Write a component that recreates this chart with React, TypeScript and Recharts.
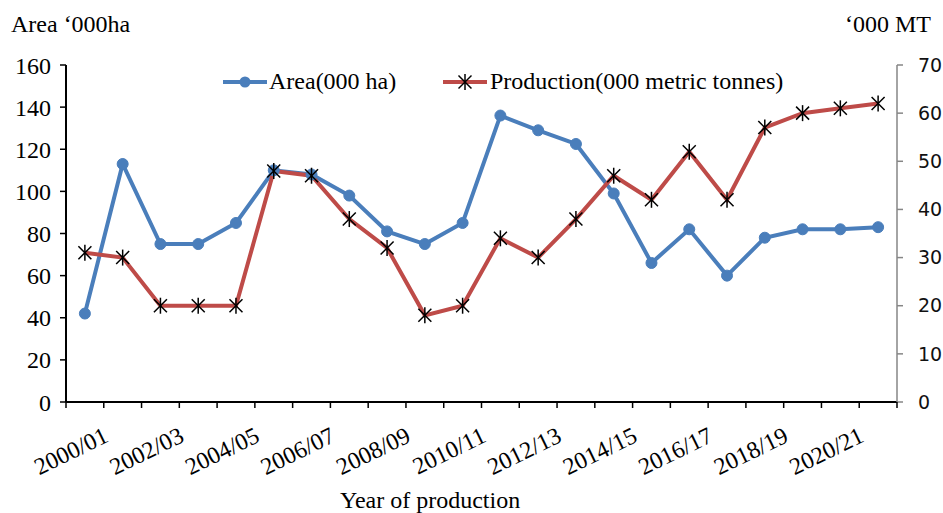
import { LineChart, Line, XAxis, YAxis } from "recharts";

const years = [
  "2000/01", "2001/02", "2002/03", "2003/04", "2004/05", "2005/06", "2006/07", "2007/08",
  "2008/09", "2009/10", "2010/11", "2011/12", "2012/13", "2013/14", "2014/15", "2015/16",
  "2016/17", "2017/18", "2018/19", "2019/20", "2020/21", "2021/22",
];
const area = [42, 113, 75, 75, 85, 110, 108, 98, 81, 75, 85, 136, 129, 122.5, 99, 66, 82, 60, 78, 82, 82, 83];
const production = [31, 30, 20, 20, 20, 48, 47, 38, 32, 18, 20, 34, 30, 38, 47, 42, 52, 42, 57, 60, 61, 62];
const areaTicks = [0, 20, 40, 60, 80, 100, 120, 140, 160];
const prodTicks = [0, 10, 20, 30, 40, 50, 60, 70];

const data = years.map((y, i) => ({ year: y, area: area[i], production: production[i] }));

const W = 943;
const H = 513;
const LEFT = 66;
const RIGHT = 897;
const TOP = 65;
const BOTTOM = 402;
const STEP = (RIGHT - LEFT) / years.length;

const BLUE = "#4A7EBB";
const RED = "#BE4B48";
const SERIF = "'Liberation Serif', 'Times New Roman', serif";
const SANS = "'DejaVu Sans', Verdana, sans-serif";

function Star({ cx, cy }: any) {
  if (cx == null || cy == null) return null;
  return (
    <g stroke="#000" strokeWidth={1.5}>
      <line x1={cx - 6.5} y1={cy - 6.5} x2={cx + 6.5} y2={cy + 6.5} />
      <line x1={cx - 6.5} y1={cy + 6.5} x2={cx + 6.5} y2={cy - 6.5} />
      <line x1={cx} y1={cy - 8} x2={cx} y2={cy + 8} />
    </g>
  );
}

function YearTick({ x, payload, index }: any) {
  const lx = x + 25;
  const ly = 441;
  return (
    <g>
      <line x1={x - STEP / 2} x2={x - STEP / 2} y1={BOTTOM} y2={BOTTOM + 6} stroke="#000" strokeWidth={1.5} />
      {index === years.length - 1 && (
        <line x1={x + STEP / 2} x2={x + STEP / 2} y1={BOTTOM} y2={BOTTOM + 6} stroke="#000" strokeWidth={1.5} />
      )}
      {index % 2 === 0 && (
        <text
          x={lx}
          y={ly}
          transform={`rotate(-26, ${lx}, ${ly})`}
          textAnchor="end"
          fontFamily={SERIF}
          fontSize={24}
          fill="#000"
        >
          {payload.value}
        </text>
      )}
    </g>
  );
}

export default function App() {
  return (
    <div style={{ position: "absolute", left: 0, top: 0, width: W, height: H, overflow: "hidden", background: "#fff" }}>
      <LineChart width={W} height={H} data={data} margin={{ top: TOP, right: 0, bottom: 0, left: 0 }}>
        <XAxis
          dataKey="year"
          interval={0}
          height={H - BOTTOM}
          padding={{ left: STEP / 2, right: STEP / 2 }}
          axisLine={{ stroke: "#000", strokeWidth: 2 }}
          tickLine={false}
          tick={<YearTick />}
        />
        <YAxis
          yAxisId="left"
          orientation="left"
          width={LEFT}
          domain={[0, 160]}
          ticks={areaTicks}
          interval={0}
          axisLine={{ stroke: "#000", strokeWidth: 2 }}
          tickLine={{ stroke: "#000", strokeWidth: 1.5 }}
          tickSize={6}
          tickMargin={9}
          tick={{ fill: "#000", fontFamily: SERIF, fontSize: 24 }}
        />
        <YAxis
          yAxisId="right"
          orientation="right"
          width={W - RIGHT}
          domain={[0, 70]}
          ticks={prodTicks}
          interval={0}
          axisLine={{ stroke: "#868686", strokeWidth: 1.5 }}
          tickLine={{ stroke: "#868686", strokeWidth: 1.5 }}
          tickSize={6}
          tickMargin={15}
          tick={{ fill: "#111", fontFamily: SANS, fontSize: 19, textAnchor: "start" }}
        />
        <Line
          yAxisId="left"
          dataKey="area"
          stroke={BLUE}
          strokeWidth={4}
          dot={{ r: 5.5, fill: BLUE, stroke: BLUE, strokeWidth: 1 }}
          activeDot={false}
          isAnimationActive={false}
        />
        <Line
          yAxisId="right"
          dataKey="production"
          stroke={RED}
          strokeWidth={4}
          dot={<Star />}
          activeDot={false}
          isAnimationActive={false}
        />
      </LineChart>
      <svg width={W} height={H} style={{ position: "absolute", left: 0, top: 0, pointerEvents: "none" }}>
        <g fontFamily={SERIF} fontSize={24} fill="#000">
          <text x={11} y={32}>Area ‘000ha</text>
          <text x={845} y={32}>‘000 MT</text>
          <text x={340} y={508}>Year of production</text>
          <line x1={223} x2={267} y1={82} y2={82} stroke={BLUE} strokeWidth={4} />
          <circle cx={245} cy={82} r={5.5} fill={BLUE} />
          <text x={269} y={89}>Area(000 ha)</text>
          <line x1={443} x2={487} y1={82} y2={82} stroke={RED} strokeWidth={4} />
          <Star cx={465} cy={82} />
          <text x={490} y={89}>Production(000 metric tonnes)</text>
        </g>
      </svg>
    </div>
  );
}
